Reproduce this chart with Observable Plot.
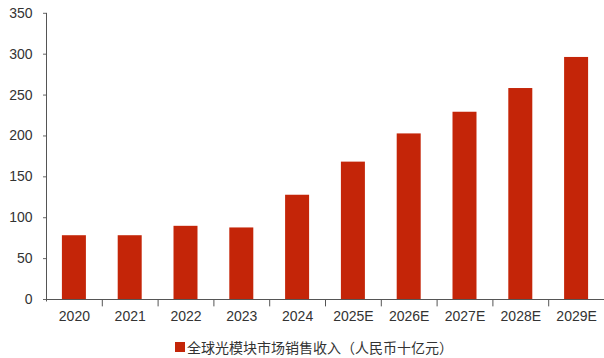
<!DOCTYPE html>
<html><head><meta charset="utf-8">
<script src="https://cdn.jsdelivr.net/npm/d3@7"></script>
<script src="https://cdn.jsdelivr.net/npm/@observablehq/plot@0.6"></script>
<style>
body{margin:0;background:#fff;}
#chart{width:604px;height:358px;position:relative;}
.legend{position:absolute;left:175px;top:337px;font:14px "Liberation Sans","Noto Sans CJK SC",sans-serif;color:#333;display:flex;align-items:center;white-space:nowrap;}
.legend span.sw{display:inline-block;width:10px;height:10px;background:#c42508;margin-right:2px;}
.legend span.t{font-family:"Noto Sans CJK SC",sans-serif;}
</style></head>
<body><div id="chart"></div>
<script>
const years = ["2020","2021","2022","2023","2024","2025E","2026E","2027E","2028E","2029E"];
const revenue = [78, 78, 89.5, 87.5, 127.5, 168, 202.5, 229, 258, 296];
const yTicks = [0,50,100,150,200,250,300,350];
const seriesName = "全球光模块市场销售收入（人民币十亿元）";
const barColor = "#c42508";

const data = years.map((y,i)=>({year:y, value:revenue[i]}));
const W = 604, H = 330, mL = 46, mR = 0, mT = 12.8, mB = 31;
const pIn = 0.57, pOut = 0.285;
const step = (W - mL - mR) / (years.length - pIn + 2 * pOut);

const chart = Plot.plot({
  width: W, height: H,
  marginLeft: mL, marginRight: mR, marginTop: mT, marginBottom: mB,
  style: {fontFamily: '"Liberation Sans", Arial, sans-serif', fontSize: "14px", color: "#333", background: "#fff"},
  x: {domain: years, paddingInner: pIn, paddingOuter: pOut, round: false, label: null},
  y: {domain: [0,350], ticks: yTicks, label: null},
  marks: [
    Plot.barY(data, {x:"year", y:"value", fill: barColor}),
    Plot.axisY({ticks: yTicks, tickSize: 3, tickPadding: 11, stroke: "#666", fill: "#333", fontSize: 14, label: null}),
    Plot.axisX({tickSize: 0, tickPadding: 12, fill: "#333", fontSize: 14, label: null}),
    Plot.ruleX(years.slice(1), {x: d=>d, dx: -step/2, y1: 0, y2: -9, stroke: "#555"}),
    Plot.ruleX([years[0]], {dx: -step/2, y1: -3, y2: 350, stroke: "#555"}),
    Plot.ruleY([0], {stroke: "#555"})
  ]
});
document.getElementById("chart").appendChild(chart);
const lg = document.createElement("div");
lg.className = "legend";
lg.innerHTML = `<span class="sw"></span><span class="t"></span>`;
lg.querySelector(".t").textContent = seriesName;
document.getElementById("chart").appendChild(lg);
</script></body></html>
